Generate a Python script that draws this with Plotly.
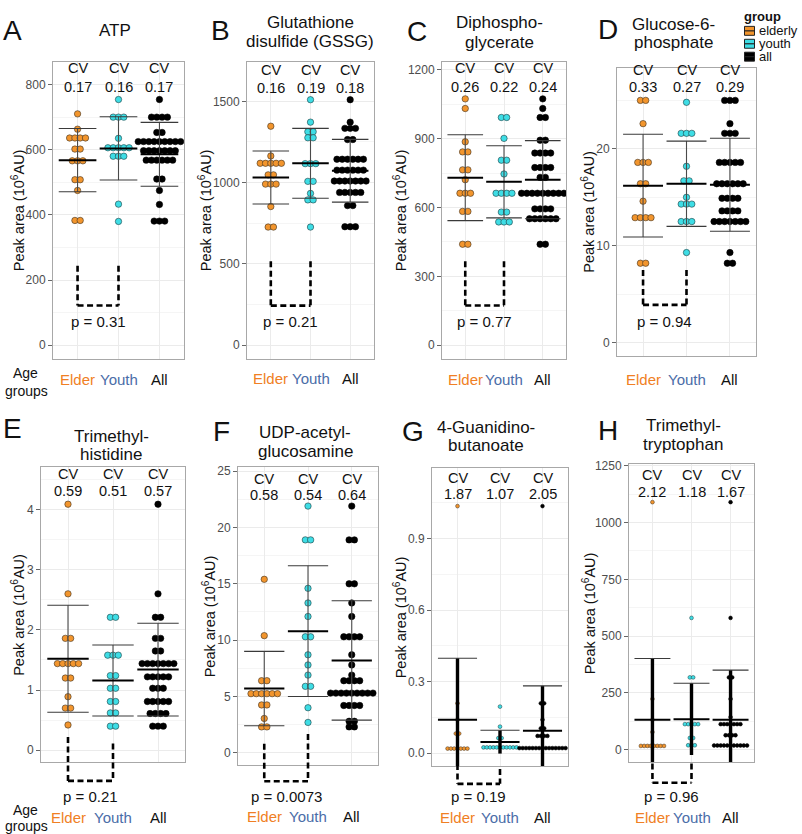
import plotly.graph_objects as go

W, H = 802, 834
FONT = "Liberation Sans, Arial, sans-serif"

GROUPS = ["Elder", "Youth", "All"]
LEGEND_NAMES = ["elderly", "youth", "all"]
DOT_FILL = ["#F2952D", "#3EDDE5", "#000000"]
DOT_EDGE = ["#3d3022", "#1f3d3f", "#000000"]
LABEL_COL = ["#F07F24", "#4A6DA8", "#111111"]

# ---------------- data ----------------
A_elder = [710, 663, 636, 636, 636, 636, 602, 602, 566, 566, 566, 508, 508, 475, 383, 383]
A_youth = [754, 700, 700, 700, 635, 606, 606, 606, 606, 606, 580, 580, 580, 433, 380]
A_all = [754] + [700] * 4 + [653] * 2 + [625] * 9 + [597] * 7 + [568] * 6 + [510] * 2 + [475, 432] + [381] * 3
A_mean = [568, 604, 586]
A_sd = [97, 97, 98]
A_cv = [0.17, 0.16, 0.17]
A_p = "0.31"
A_bracket = [244, 244, 122]
A_ticks = [0, 200, 400, 600, 800]

B_elder = [1347, 1164] + [1119] * 5 + [1048] * 2 + [991] * 3 + [853] + [727] * 2
B_youth = [1510, 1372] + [1313] * 2 + [1276] * 2 + [1117] * 3 + [1008] * 2 + [934] + [894] * 2 + [727]
B_all = [1510, 1372] + [1334] * 3 + [1265] * 2 + [1144] * 6 + [1077] * 6 + [1010] * 7 + [940] * 5 + [859] * 2 + [729] * 3
B_mean = [1032, 1119, 1073]
B_sd = [163, 215, 193]
B_cv = [0.16, 0.19, 0.18]
B_p = "0.21"
B_bracket = [517, 517, 244]
B_ticks = [0, 500, 1000, 1500]

C_elder = [1073, 1031, 886] + [842] * 2 + [764] * 2 + [721] + [662] * 3 + [583] * 2 + [440] * 2
C_youth = [992] * 2 + [901] + [806] * 2 + [746] + [662] * 4 + [580] * 2 + [537] * 3
C_all = [1073, 1031] + [992] * 2 + [893] * 2 + [837] * 4 + [774] * 4 + [731] * 2 + [662] * 9 + [594] * 4 + [551] * 6 + [440] * 2
C_mean = [730, 712, 721]
C_sd = [187, 157, 170]
C_cv = [0.26, 0.22, 0.24]
C_p = "0.77"
C_bracket = [366, 366, 173]
C_ticks = [0, 300, 600, 900, 1200]

D_elder = [25.0] * 2 + [22.6] + [18.6] * 3 + [16.4] * 2 + [14.6] + [12.9] * 4 + [8.2] * 2
D_youth = [24.8] + [21.6] * 3 + [18.2] + [16.7] * 2 + [15.0] + [14.3] * 3 + [12.5] * 3 + [9.3]
D_all = [25.0] * 3 + [22.6] + [21.6] * 3 + [18.6] * 5 + [16.4] * 6 + [14.9] * 4 + [13.6] * 4 + [12.5] * 7 + [9.3] + [8.2] * 2
D_mean = [16.2, 16.4, 16.3]
D_sd = [5.3, 4.4, 4.8]
D_cv = [0.33, 0.27, 0.29]
D_p = "0.94"
D_bracket = [7.5, 7.5, 3.9]
D_ticks = [0, 10, 20]

E_elder = [4.09, 2.60] + [1.86] * 2 + [1.44] * 5 + [1.20] * 2 + [0.89] + [0.70] * 2 + [0.42]
E_youth = [2.21] * 2 + [1.58] * 3 + [1.24] * 2 + [1.03] * 2 + [0.81] * 2 + [0.62] * 2 + [0.40] * 2
E_all = [4.09, 2.60] + [2.21] * 2 + [1.86] * 2 + [1.65] * 2 + [1.44] * 7 + [1.22] * 5 + [1.03] * 3 + [0.81] * 5 + [0.61] * 4 + [0.40] * 3
E_mean = [1.52, 1.16, 1.34]
E_sd = [0.89, 0.59, 0.77]
E_cv = [0.59, 0.51, 0.57]
E_p = "0.21"
E_bracket = [0.22, 0.11, -0.51]
E_ticks = [0, 1, 2, 3, 4]

F_elder = [15.4, 10.4] + [6.4] * 2 + [5.25] * 6 + [4.25] * 2 + [3.05] + [2.3] * 2
F_youth = [21.9] + [18.9] * 2 + [14.6, 13.3, 12.1] + [10.3] * 2 + [8.7, 7.8, 6.9] + [5.9] * 2 + [4.0, 2.7]
F_all = [21.9] + [18.9] * 2 + [15.0] * 2 + [13.3, 12.1] + [10.3] * 4 + [8.7, 7.8, 6.9] + [6.4] * 4 + [5.3] * 9 + [4.2] * 4 + [2.8] * 2 + [2.3] * 2
F_mean = [5.7, 10.8, 8.2]
F_sd = [3.3, 5.8, 5.3]
F_cv = [0.58, 0.54, 0.64]
F_p = "0.0073"
F_bracket = [0.8, 1.68, -2.53]
F_ticks = [0, 5, 10, 15, 20, 25]

G_elder = [1.036, 0.209, 0.140] + [0.082] * 2 + [0.019] * 7
G_youth = [0.195, 0.111] + [0.063] * 2 + [0.024] * 11
G_all = [1.036] + [0.209] * 2 + [0.140] + [0.104] * 2 + [0.072] * 4 + [0.021] * 15
G_mean = [0.140, 0.047, 0.094]
G_sd = [0.258, 0.049, 0.188]
G_cv = [1.87, 1.07, 2.05]
G_p = "0.19"
G_bracket = [-0.046, -0.067, -0.129]
G_ticks = [0.0, 0.3, 0.6, 0.9]

H_elder = [1090, 223, 131, 77] + [16] * 8
H_youth = [580] + [318] * 2 + [112] * 5 + [51] * 2 + [19] * 3
H_all = [1090, 580] + [318] * 2 + [223, 143] + [112] * 7 + [63] * 4 + [18] * 11
H_mean = [131, 134, 131]
H_sd = [270, 158, 219]
H_cv = [2.12, 1.18, 1.67]
H_p = "0.96"
H_bracket = [-61, -61, -146]
H_ticks = [0, 250, 500, 750, 1000, 1250]

# ---------------- layout description per panel ----------------
PANELS = [
    dict(letter="A", title=["ATP"], vals=(A_elder, A_youth, A_all), mean=A_mean, sd=A_sd, cv=A_cv, p=A_p,
         bracket=A_bracket, ticks=A_ticks, fmt="", box=(53, 57, 184, 356), yr=(-41.7, 870.2),
         letter_xy=(12, 26), title_x=115, title_y=[26], cv_y=(63, 82), p_y=318, lab_y=377, ytitle_x=18, small=False),
    dict(letter="B", title=["Glutathione", "disulfide (GSSG)"], vals=(B_elder, B_youth, B_all), mean=B_mean, sd=B_sd,
         cv=B_cv, p=B_p, bracket=B_bracket, ticks=B_ticks, fmt="", box=(247, 57, 374, 356), yr=(-83.5, 1744),
         letter_xy=(220, 26), title_x=310, title_y=[18, 37], cv_y=(65, 83), p_y=318, lab_y=376, ytitle_x=205, small=False),
    dict(letter="C", title=["Diphospho-", "glycerate"], vals=(C_elder, C_youth, C_all), mean=C_mean, sd=C_sd,
         cv=C_cv, p=C_p, bracket=C_bracket, ticks=C_ticks, fmt="", box=(442, 57, 566, 356), yr=(-59.1, 1235),
         letter_xy=(417, 27), title_x=499, title_y=[18, 38], cv_y=(63, 82), p_y=318, lab_y=377, ytitle_x=400, small=False),
    dict(letter="D", title=["Glucose-6-", "phosphate"], vals=(D_elder, D_youth, D_all), mean=D_mean, sd=D_sd,
         cv=D_cv, p=D_p, bracket=D_bracket, ticks=D_ticks, fmt="", box=(617, 63, 756, 353), yr=(-1.36, 28.38),
         letter_xy=(608, 25), title_x=673, title_y=[20, 38], cv_y=(65, 82), p_y=318, lab_y=377, ytitle_x=588, small=False),
    dict(letter="E", title=["Trimethyl-", "histidine"], vals=(E_elder, E_youth, E_all), mean=E_mean, sd=E_sd,
         cv=E_cv, p=E_p, bracket=E_bracket, ticks=E_ticks, fmt="", box=(41, 465, 185, 762), yr=(-0.203, 4.705),
         letter_xy=(12, 426), title_x=111, title_y=[434, 452], cv_y=(472, 489), p_y=796, lab_y=817, ytitle_x=18, small=False),
    dict(letter="F", title=["UDP-acetyl-", "glucosamine"], vals=(F_elder, F_youth, F_all), mean=F_mean, sd=F_sd,
         cv=F_cv, p=F_p, bracket=F_bracket, ticks=F_ticks, fmt="", box=(238, 465, 378, 765), yr=(-1.118, 25.35),
         letter_xy=(221, 429), title_x=305, title_y=[430, 449], cv_y=(477, 493), p_y=796, lab_y=816, ytitle_x=209, small=False),
    dict(letter="G", title=["4-Guanidino-", "butanoate"], vals=(G_elder, G_youth, G_all), mean=G_mean, sd=G_sd,
         cv=G_cv, p=G_p, bracket=G_bracket, ticks=G_ticks, fmt=".1f", box=(432, 466, 568, 766), yr=(-0.0558, 1.195),
         letter_xy=(413, 429), title_x=486, title_y=[425, 443], cv_y=(476, 492), p_y=796, lab_y=817, ytitle_x=400, small=True),
    dict(letter="H", title=["Trimethyl-", "tryptophan"], vals=(H_elder, H_youth, H_all), mean=H_mean, sd=H_sd,
         cv=H_cv, p=H_p, bracket=H_bracket, ticks=H_ticks, fmt="", box=(629, 462, 754, 762), yr=(-56.7, 1257),
         letter_xy=(608, 428), title_x=683, title_y=[423, 442], cv_y=(473, 490), p_y=796, lab_y=817, ytitle_x=589, small=True),
]

XR = (-0.6, 2.6)
GRID = "#EBEBEB"
MINOR = "#F5F5F5"
BOX = "#A8A8A8"


def fx(px):
    return px / W


def fy(py):
    return 1 - py / H


def stack(vals, spacing):
    counts = {}
    for v in vals:
        counts[v] = counts.get(v, 0) + 1
    xs, ys = [], []
    for v, c in counts.items():
        for k in range(c):
            xs.append((k - (c - 1) / 2) * spacing)
            ys.append(v)
    return xs, ys


fig = go.Figure()
layout = {}
annotations = []
shapes = []


def ann(text, x, y, size, color="#111111", xr="paper", angle=0, anchor="center"):
    annotations.append(dict(text=text, x=x, y=y, xref=xr, yref="paper",
                            showarrow=False, xanchor=anchor, yanchor="middle", textangle=angle,
                            font=dict(family=FONT, size=size, color=color)))


for i, P in enumerate(PANELS):
    n = i + 1
    s = "" if n == 1 else str(n)
    xref, yref = "x" + s, "y" + s
    x0, y0, x1, y1 = P["box"]
    r0, r1 = P["yr"]
    ticks = P["ticks"]
    step = ticks[1] - ticks[0]
    minor_vals = [t + step / 2 for t in ticks]

    layout["xaxis" + s] = dict(domain=[fx(x0), fx(x1)], range=list(XR), anchor=yref, tickvals=[0, 1, 2],
                               showticklabels=False, ticks="", showgrid=True, gridcolor=GRID, gridwidth=1,
                               zeroline=False, showline=True, mirror=True, linecolor=BOX, linewidth=1,
                               fixedrange=True)
    layout["yaxis" + s] = dict(domain=[fy(y1), fy(y0)], range=[r0, r1], anchor=xref, tickmode="array",
                               tickvals=ticks, tickformat=P["fmt"], ticks="outside", ticklen=4, tickcolor="#666",
                               tickwidth=1, tickfont=dict(family=FONT, size=12, color="#4D4D4D"),
                               showgrid=True, gridcolor=GRID, gridwidth=1, zeroline=False, showline=True,
                               mirror=True, linecolor=BOX, linewidth=1, fixedrange=True,
                               minor=dict(tickmode="array", tickvals=minor_vals, showgrid=True,
                                          gridcolor=MINOR, gridwidth=1, ticks=""))

    px_per_unit = (x1 - x0) / (XR[1] - XR[0])
    if P["small"]:
        dsize, dspace = 3.8, 3.3
    else:
        dsize, dspace = 6.4, 5.3
    spacing = dspace / px_per_unit

    # dots
    for g in range(3):
        ox, ys = stack(P["vals"][g], spacing)
        fig.add_trace(go.Scatter(x=[g + o for o in ox], y=ys, mode="markers", xaxis=xref, yaxis=yref,
                                 showlegend=False, hoverinfo="skip",
                                 marker=dict(size=dsize, color=DOT_FILL[g],
                                             line=dict(color=DOT_EDGE[g], width=0.6 if not P["small"] else 0.5))))

    # error bars (vertical) and mean / sd lines
    vx, vy, hx, hy, mx, my = [], [], [], [], [], []
    hw = 0.46
    for g in range(3):
        m, sd = P["mean"][g], P["sd"][g]
        vx += [g, g, None]
        vy += [m - sd, m + sd, None]
        for yv in (m - sd, m + sd):
            if yv >= 0:
                hx += [g - hw, g + hw, None]
                hy += [yv, yv, None]
        mx += [g - hw, g + hw, None]
        my += [m, m, None]
    if P["small"]:
        vline = dict(color="#000000", width=3.4)
    else:
        vline = dict(color="#4A4A4A", width=1.1)
    fig.add_trace(go.Scatter(x=vx, y=vy, mode="lines", line=vline, xaxis=xref, yaxis=yref,
                             showlegend=False, hoverinfo="skip"))
    fig.add_trace(go.Scatter(x=hx, y=hy, mode="lines", line=dict(color="#3A3A3A", width=1.1), xaxis=xref,
                             yaxis=yref, showlegend=False, hoverinfo="skip"))
    fig.add_trace(go.Scatter(x=mx, y=my, mode="lines", line=dict(color="#000000", width=2), xaxis=xref,
                             yaxis=yref, showlegend=False, hoverinfo="skip"))

    # dashed bracket between Elder and Youth
    def dom(v):
        return (v - r0) / (r1 - r0)
    top_e, top_y, bot = P["bracket"]
    dash = dict(color="black", width=2.6, dash="6px,3.5px")
    shapes.append(dict(type="line", xref=xref, yref=yref + " domain", x0=0, x1=0, y0=dom(top_e), y1=dom(bot), line=dash))
    shapes.append(dict(type="line", xref=xref, yref=yref + " domain", x0=1, x1=1, y0=dom(top_y), y1=dom(bot), line=dash))
    shapes.append(dict(type="line", xref=xref, yref=yref + " domain", x0=0, x1=1, y0=dom(bot), y1=dom(bot), line=dash))

    # texts
    ann(P["letter"], fx(P["letter_xy"][0]), fy(P["letter_xy"][1]), 28)
    for line, ty in zip(P["title"], P["title_y"]):
        ann(line, fx(P["title_x"]), fy(ty), 17)
    for g in range(3):
        ann("CV", g, fy(P["cv_y"][0]), 14.5, xr=xref)
        ann("%.2f" % P["cv"][g], g, fy(P["cv_y"][1]), 14.5, xr=xref)
        ann(GROUPS[g], g, fy(P["lab_y"]), 15, color=LABEL_COL[g], xr=xref)
    ann("p = " + P["p"], 0.5, fy(P["p_y"]), 15, xr=xref)
    ann("Peak area (10<sup>6</sup>AU)", fx(P["ytitle_x"]), fy((y0 + y1) / 2), 14.5, angle=-90)

# "Age groups" labels
for ya, yg in ((370, 388), (810, 826)):
    ann("Age", fx(25), fy(ya), 14)
    ann("groups", fx(26), fy(yg), 14)

# manual legend (top right)
ann("<b>group</b>", fx(742), fy(12), 13, anchor="left")
for g, ky in enumerate((26, 39, 52)):
    shapes.append(dict(type="rect", xref="paper", yref="paper", x0=fx(744.5), x1=fx(754.5), y0=fy(ky - 4.5),
                       y1=fy(ky + 4.5), fillcolor=DOT_FILL[g], line=dict(color="#222", width=1)))
    shapes.append(dict(type="line", xref="paper", yref="paper", x0=fx(744.5), x1=fx(754.5), y0=fy(ky), y1=fy(ky),
                       line=dict(color="#222", width=1.2)))
    ann(LEGEND_NAMES[g], fx(756.5), fy(ky), 13, anchor="left")

fig.update_layout(width=W, height=H, margin=dict(l=0, r=0, t=0, b=0), paper_bgcolor="white",
                  plot_bgcolor="white", showlegend=False, annotations=annotations, shapes=shapes, **layout)

fig.write_html("out.html", config={"displayModeBar": False},
               post_script="document.body.style.margin='0';document.body.style.padding='0';")
